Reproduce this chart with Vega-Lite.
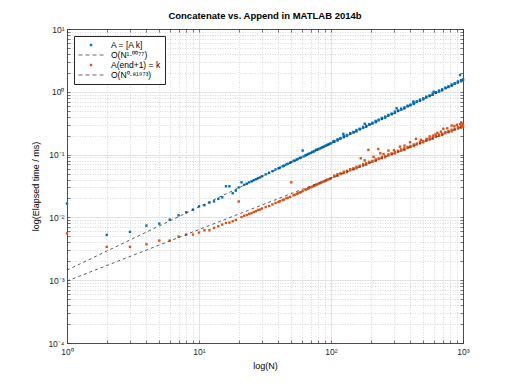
{
  "$schema": "https://vega.github.io/schema/vega-lite/v6.json",
  "width": 396,
  "height": 314,
  "autosize": {"type": "none"},
  "padding": {"left": 67, "top": 29, "right": 49, "bottom": 41},
  "background": "white",
  "title": {"text": "Concatenate vs. Append in MATLAB 2014b", "font": "Liberation Sans", "fontSize": 9.5, "fontWeight": "bold", "color": "#000000", "offset": 5},
  "config": {
    "view": {"stroke": null},
    "font": "Liberation Sans",
    "axis": {
      "labelFont": "Liberation Sans", "labelFontSize": 8.5, "labelColor": "#262626",
      "titleFont": "Liberation Sans", "titleFontSize": 9, "titleFontWeight": "normal", "titleColor": "#000000",
      "domainColor": "#262626", "domainWidth": 0.8, "tickColor": "#262626", "tickWidth": 0.6,
      "labelFlush": false, "labelOverlap": false, "labelBound": false
    }
  },
  "datasets": {
    "fits": [
      {"N": 1, "t": 0.001445, "s": "O(N¹·⁰⁰⁷⁷)"}, {"N": 1000, "t": 1.524, "s": "O(N¹·⁰⁰⁷⁷)"},
      {"N": 1, "t": 0.00097, "s": "O(N⁰·⁸¹⁹⁷³)"}, {"N": 1000, "t": 0.2792, "s": "O(N⁰·⁸¹⁹⁷³)"}
    ],
    "pts": [
      {"N":1,"t":0.0166,"s":"A = [A k]"},{"N":2,"t":0.00526,"s":"A = [A k]"},{"N":3,"t":0.00587,"s":"A = [A k]"},{"N":4,"t":0.0074,"s":"A = [A k]"},{"N":5,"t":0.00796,"s":"A = [A k]"},{"N":6,"t":0.00922,"s":"A = [A k]"},{"N":7,"t":0.0108,"s":"A = [A k]"},{"N":8,"t":0.01205,"s":"A = [A k]"},{"N":9,"t":0.0133,"s":"A = [A k]"},{"N":10,"t":0.015,"s":"A = [A k]"},
      {"N":11,"t":0.0156,"s":"A = [A k]"},{"N":12,"t":0.0172,"s":"A = [A k]"},{"N":13,"t":0.018,"s":"A = [A k]"},{"N":14,"t":0.0197,"s":"A = [A k]"},{"N":15,"t":0.0209,"s":"A = [A k]"},{"N":16,"t":0.0313,"s":"A = [A k]"},{"N":17,"t":0.0313,"s":"A = [A k]"},{"N":18,"t":0.0242,"s":"A = [A k]"},{"N":19,"t":0.0267,"s":"A = [A k]"},{"N":20,"t":0.03,"s":"A = [A k]"},
      {"N":21,"t":0.0362,"s":"A = [A k]"},{"N":22,"t":0.033,"s":"A = [A k]"},{"N":23,"t":0.0345,"s":"A = [A k]"},{"N":24,"t":0.0362,"s":"A = [A k]"},{"N":25,"t":0.0375,"s":"A = [A k]"},{"N":26,"t":0.0392,"s":"A = [A k]"},{"N":27,"t":0.0405,"s":"A = [A k]"},{"N":28,"t":0.042,"s":"A = [A k]"},{"N":29,"t":0.0433,"s":"A = [A k]"},{"N":30,"t":0.0452,"s":"A = [A k]"},
      {"N":32,"t":0.0485,"s":"A = [A k]"},{"N":34,"t":0.0515,"s":"A = [A k]"},{"N":36,"t":0.0545,"s":"A = [A k]"},{"N":38,"t":0.058,"s":"A = [A k]"},{"N":40,"t":0.0605,"s":"A = [A k]"},{"N":41,"t":0.0622,"s":"A = [A k]"},{"N":43,"t":0.065,"s":"A = [A k]"},{"N":44,"t":0.0667,"s":"A = [A k]"},{"N":46,"t":0.07,"s":"A = [A k]"},{"N":47,"t":0.0713,"s":"A = [A k]"},
      {"N":49,"t":0.0745,"s":"A = [A k]"},{"N":50,"t":0.0759,"s":"A = [A k]"},{"N":52,"t":0.079,"s":"A = [A k]"},{"N":53,"t":0.0805,"s":"A = [A k]"},{"N":55,"t":0.0835,"s":"A = [A k]"},{"N":56,"t":0.0851,"s":"A = [A k]"},{"N":58,"t":0.088,"s":"A = [A k]"},{"N":59,"t":0.0897,"s":"A = [A k]"},{"N":61,"t":0.116,"s":"A = [A k]"},{"N":62,"t":0.0935,"s":"A = [A k]"},
      {"N":64,"t":0.097,"s":"A = [A k]"},{"N":65,"t":0.0989,"s":"A = [A k]"},{"N":67,"t":0.1015,"s":"A = [A k]"},{"N":68,"t":0.1035,"s":"A = [A k]"},{"N":70,"t":0.106,"s":"A = [A k]"},{"N":72,"t":0.1096,"s":"A = [A k]"},{"N":74,"t":0.112,"s":"A = [A k]"},{"N":75,"t":0.1142,"s":"A = [A k]"},{"N":77,"t":0.119,"s":"A = [A k]"},{"N":78,"t":0.1188,"s":"A = [A k]"},
      {"N":80,"t":0.1215,"s":"A = [A k]"},{"N":82,"t":0.125,"s":"A = [A k]"},{"N":84,"t":0.1275,"s":"A = [A k]"},{"N":86,"t":0.1311,"s":"A = [A k]"},{"N":88,"t":0.1335,"s":"A = [A k]"},{"N":90,"t":0.1372,"s":"A = [A k]"},{"N":92,"t":0.1395,"s":"A = [A k]"},{"N":94,"t":0.1434,"s":"A = [A k]"},{"N":96,"t":0.1455,"s":"A = [A k]"},{"N":98,"t":0.1495,"s":"A = [A k]"},
      {"N":100,"t":0.1515,"s":"A = [A k]"},{"N":104,"t":0.161,"s":"A = [A k]"},{"N":124,"t":0.214,"s":"A = [A k]"},{"N":180,"t":0.31,"s":"A = [A k]"},{"N":314,"t":0.546,"s":"A = [A k]"},{"N":420,"t":0.7,"s":"A = [A k]"},{"N":600,"t":1.0,"s":"A = [A k]"},{"N":950,"t":1.85,"s":"A = [A k]"},
      {"N":106,"t":0.1603,"s":"A = [A k]"},{"N":106,"t":0.165,"s":"A = [A k]"},{"N":112,"t":0.1677,"s":"A = [A k]"},{"N":112,"t":0.1753,"s":"A = [A k]"},{"N":118,"t":0.1803,"s":"A = [A k]"},{"N":118,"t":0.1829,"s":"A = [A k]"},{"N":125,"t":0.1892,"s":"A = [A k]"},{"N":125,"t":0.1976,"s":"A = [A k]"},{"N":132,"t":0.1979,"s":"A = [A k]"},{"N":132,"t":0.2058,"s":"A = [A k]"},
      {"N":140,"t":0.2142,"s":"A = [A k]"},{"N":140,"t":0.2194,"s":"A = [A k]"},{"N":148,"t":0.2243,"s":"A = [A k]"},{"N":148,"t":0.2298,"s":"A = [A k]"},{"N":156,"t":0.2342,"s":"A = [A k]"},{"N":156,"t":0.2459,"s":"A = [A k]"},{"N":165,"t":0.2527,"s":"A = [A k]"},{"N":165,"t":0.2577,"s":"A = [A k]"},{"N":175,"t":0.2655,"s":"A = [A k]"},{"N":175,"t":0.2761,"s":"A = [A k]"},
      {"N":185,"t":0.2781,"s":"A = [A k]"},{"N":185,"t":0.2892,"s":"A = [A k]"},{"N":195,"t":0.2991,"s":"A = [A k]"},{"N":195,"t":0.3064,"s":"A = [A k]"},{"N":206,"t":0.313,"s":"A = [A k]"},{"N":206,"t":0.3207,"s":"A = [A k]"},{"N":218,"t":0.3281,"s":"A = [A k]"},{"N":218,"t":0.3445,"s":"A = [A k]"},{"N":230,"t":0.3532,"s":"A = [A k]"},{"N":230,"t":0.3601,"s":"A = [A k]"},
      {"N":243,"t":0.3696,"s":"A = [A k]"},{"N":243,"t":0.3843,"s":"A = [A k]"},{"N":257,"t":0.3872,"s":"A = [A k]"},{"N":257,"t":0.4027,"s":"A = [A k]"},{"N":272,"t":0.4182,"s":"A = [A k]"},{"N":272,"t":0.4284,"s":"A = [A k]"},{"N":288,"t":0.4386,"s":"A = [A k]"},{"N":288,"t":0.4495,"s":"A = [A k]"},{"N":305,"t":0.4601,"s":"A = [A k]"},{"N":305,"t":0.4831,"s":"A = [A k]"},
      {"N":322,"t":0.4957,"s":"A = [A k]"},{"N":322,"t":0.5054,"s":"A = [A k]"},{"N":340,"t":0.5184,"s":"A = [A k]"},{"N":340,"t":0.539,"s":"A = [A k]"},{"N":360,"t":0.5437,"s":"A = [A k]"},{"N":360,"t":0.5655,"s":"A = [A k]"},{"N":380,"t":0.5857,"s":"A = [A k]"},{"N":380,"t":0.6,"s":"A = [A k]"},{"N":400,"t":0.6107,"s":"A = [A k]"},{"N":400,"t":0.6258,"s":"A = [A k]"},
      {"N":423,"t":0.6397,"s":"A = [A k]"},{"N":423,"t":0.6716,"s":"A = [A k]"},{"N":447,"t":0.6897,"s":"A = [A k]"},{"N":447,"t":0.7033,"s":"A = [A k]"},{"N":472,"t":0.7215,"s":"A = [A k]"},{"N":472,"t":0.75,"s":"A = [A k]"},{"N":500,"t":0.757,"s":"A = [A k]"},{"N":500,"t":0.7873,"s":"A = [A k]"},{"N":528,"t":0.8157,"s":"A = [A k]"},{"N":528,"t":0.8357,"s":"A = [A k]"},
      {"N":558,"t":0.854,"s":"A = [A k]"},{"N":558,"t":0.8751,"s":"A = [A k]"},{"N":590,"t":0.8944,"s":"A = [A k]"},{"N":590,"t":0.9391,"s":"A = [A k]"},{"N":623,"t":0.9637,"s":"A = [A k]"},{"N":623,"t":0.9826,"s":"A = [A k]"},{"N":658,"t":1.0082,"s":"A = [A k]"},{"N":658,"t":1.0481,"s":"A = [A k]"},{"N":695,"t":1.0548,"s":"A = [A k]"},{"N":695,"t":1.097,"s":"A = [A k]"},
      {"N":735,"t":1.1383,"s":"A = [A k]"},{"N":735,"t":1.1662,"s":"A = [A k]"},{"N":777,"t":1.192,"s":"A = [A k]"},{"N":777,"t":1.2215,"s":"A = [A k]"},{"N":820,"t":1.246,"s":"A = [A k]"},{"N":820,"t":1.3083,"s":"A = [A k]"},{"N":866,"t":1.3428,"s":"A = [A k]"},{"N":866,"t":1.3691,"s":"A = [A k]"},{"N":915,"t":1.4054,"s":"A = [A k]"},{"N":915,"t":1.461,"s":"A = [A k]"},
      {"N":967,"t":1.4712,"s":"A = [A k]"},{"N":967,"t":1.53,"s":"A = [A k]"},{"N":1000,"t":1.5369,"s":"A = [A k]"},{"N":1000,"t":1.5826,"s":"A = [A k]"},
      {"N":1,"t":0.00558,"s":"A(end+1) = k"},{"N":2,"t":0.00339,"s":"A(end+1) = k"},{"N":3,"t":0.00339,"s":"A(end+1) = k"},{"N":4,"t":0.00373,"s":"A(end+1) = k"},{"N":5,"t":0.00428,"s":"A(end+1) = k"},{"N":6,"t":0.00428,"s":"A(end+1) = k"},{"N":7,"t":0.00495,"s":"A(end+1) = k"},{"N":8,"t":0.00532,"s":"A(end+1) = k"},{"N":9,"t":0.00532,"s":"A(end+1) = k"},{"N":10,"t":0.00573,"s":"A(end+1) = k"},
      {"N":11,"t":0.00623,"s":"A(end+1) = k"},{"N":12,"t":0.00623,"s":"A(end+1) = k"},{"N":13,"t":0.0068,"s":"A(end+1) = k"},{"N":14,"t":0.00722,"s":"A(end+1) = k"},{"N":15,"t":0.00768,"s":"A(end+1) = k"},{"N":16,"t":0.00817,"s":"A(end+1) = k"},{"N":17,"t":0.00826,"s":"A(end+1) = k"},{"N":18,"t":0.00867,"s":"A(end+1) = k"},{"N":19,"t":0.0091,"s":"A(end+1) = k"},{"N":20,"t":0.0179,"s":"A(end+1) = k"},
      {"N":21,"t":0.01012,"s":"A(end+1) = k"},{"N":22,"t":0.01063,"s":"A(end+1) = k"},{"N":23,"t":0.0109,"s":"A(end+1) = k"},{"N":24,"t":0.01142,"s":"A(end+1) = k"},{"N":25,"t":0.01167,"s":"A(end+1) = k"},{"N":26,"t":0.0122,"s":"A(end+1) = k"},{"N":27,"t":0.01258,"s":"A(end+1) = k"},{"N":28,"t":0.01311,"s":"A(end+1) = k"},{"N":29,"t":0.01334,"s":"A(end+1) = k"},{"N":30,"t":0.01387,"s":"A(end+1) = k"},
      {"N":32,"t":0.01463,"s":"A(end+1) = k"},{"N":34,"t":0.0152,"s":"A(end+1) = k"},{"N":36,"t":0.01611,"s":"A(end+1) = k"},{"N":38,"t":0.01703,"s":"A(end+1) = k"},{"N":40,"t":0.01756,"s":"A(end+1) = k"},{"N":41,"t":0.01812,"s":"A(end+1) = k"},{"N":43,"t":0.01884,"s":"A(end+1) = k"},{"N":44,"t":0.01921,"s":"A(end+1) = k"},{"N":46,"t":0.02014,"s":"A(end+1) = k"},{"N":47,"t":0.0205,"s":"A(end+1) = k"},
      {"N":49,"t":0.02121,"s":"A(end+1) = k"},{"N":50,"t":0.0362,"s":"A(end+1) = k"},{"N":52,"t":0.02252,"s":"A(end+1) = k"},{"N":53,"t":0.02287,"s":"A(end+1) = k"},{"N":55,"t":0.02358,"s":"A(end+1) = k"},{"N":56,"t":0.02419,"s":"A(end+1) = k"},{"N":58,"t":0.02489,"s":"A(end+1) = k"},{"N":59,"t":0.02525,"s":"A(end+1) = k"},{"N":61,"t":0.02623,"s":"A(end+1) = k"},{"N":64,"t":0.02757,"s":"A(end+1) = k"},
      {"N":65,"t":0.02793,"s":"A(end+1) = k"},{"N":67,"t":0.02863,"s":"A(end+1) = k"},{"N":68,"t":0.02929,"s":"A(end+1) = k"},{"N":70,"t":0.02999,"s":"A(end+1) = k"},{"N":72,"t":0.03069,"s":"A(end+1) = k"},{"N":74,"t":0.03172,"s":"A(end+1) = k"},{"N":75,"t":0.03207,"s":"A(end+1) = k"},{"N":77,"t":0.03277,"s":"A(end+1) = k"},{"N":78,"t":0.03346,"s":"A(end+1) = k"},{"N":80,"t":0.03416,"s":"A(end+1) = k"},
      {"N":82,"t":0.03486,"s":"A(end+1) = k"},{"N":84,"t":0.03556,"s":"A(end+1) = k"},{"N":86,"t":0.03662,"s":"A(end+1) = k"},{"N":88,"t":0.03732,"s":"A(end+1) = k"},{"N":90,"t":0.03801,"s":"A(end+1) = k"},{"N":92,"t":0.0387,"s":"A(end+1) = k"},{"N":94,"t":0.0398,"s":"A(end+1) = k"},{"N":96,"t":0.04048,"s":"A(end+1) = k"},{"N":98,"t":0.04117,"s":"A(end+1) = k"},{"N":100,"t":0.04188,"s":"A(end+1) = k"},
      {"N":106,"t":0.04437,"s":"A(end+1) = k"},{"N":106,"t":0.04614,"s":"A(end+1) = k"},{"N":112,"t":0.04595,"s":"A(end+1) = k"},{"N":112,"t":0.04873,"s":"A(end+1) = k"},{"N":118,"t":0.04893,"s":"A(end+1) = k"},{"N":118,"t":0.05038,"s":"A(end+1) = k"},{"N":125,"t":0.05078,"s":"A(end+1) = k"},{"N":125,"t":0.05332,"s":"A(end+1) = k"},{"N":132,"t":0.05257,"s":"A(end+1) = k"},{"N":132,"t":0.05522,"s":"A(end+1) = k"},
      {"N":140,"t":0.05628,"s":"A(end+1) = k"},{"N":140,"t":0.05851,"s":"A(end+1) = k"},{"N":148,"t":0.05832,"s":"A(end+1) = k"},{"N":148,"t":0.06065,"s":"A(end+1) = k"},{"N":156,"t":0.06028,"s":"A(end+1) = k"},{"N":156,"t":0.06394,"s":"A(end+1) = k"},{"N":165,"t":0.0644,"s":"A(end+1) = k"},{"N":165,"t":0.06631,"s":"A(end+1) = k"},{"N":175,"t":0.06691,"s":"A(end+1) = k"},{"N":175,"t":0.07025,"s":"A(end+1) = k"},
      {"N":185,"t":0.06932,"s":"A(end+1) = k"},{"N":185,"t":0.07282,"s":"A(end+1) = k"},{"N":195,"t":0.07384,"s":"A(end+1) = k"},{"N":195,"t":0.07677,"s":"A(end+1) = k"},{"N":206,"t":0.07648,"s":"A(end+1) = k"},{"N":206,"t":0.07954,"s":"A(end+1) = k"},{"N":218,"t":0.07931,"s":"A(end+1) = k"},{"N":218,"t":0.08411,"s":"A(end+1) = k"},{"N":230,"t":0.08454,"s":"A(end+1) = k"},{"N":230,"t":0.08705,"s":"A(end+1) = k"},
      {"N":243,"t":0.08756,"s":"A(end+1) = k"},{"N":243,"t":0.09194,"s":"A(end+1) = k"},{"N":257,"t":0.09076,"s":"A(end+1) = k"},{"N":257,"t":0.09534,"s":"A(end+1) = k"},{"N":272,"t":0.097,"s":"A(end+1) = k"},{"N":272,"t":0.10084,"s":"A(end+1) = k"},{"N":288,"t":0.10065,"s":"A(end+1) = k"},{"N":288,"t":0.10468,"s":"A(end+1) = k"},{"N":305,"t":0.10444,"s":"A(end+1) = k"},{"N":305,"t":0.11076,"s":"A(end+1) = k"},
      {"N":322,"t":0.11139,"s":"A(end+1) = k"},{"N":322,"t":0.1147,"s":"A(end+1) = k"},{"N":340,"t":0.11532,"s":"A(end+1) = k"},{"N":340,"t":0.12109,"s":"A(end+1) = k"},{"N":360,"t":0.11964,"s":"A(end+1) = k"},{"N":360,"t":0.12568,"s":"A(end+1) = k"},{"N":380,"t":0.12758,"s":"A(end+1) = k"},{"N":380,"t":0.13264,"s":"A(end+1) = k"},{"N":400,"t":0.13176,"s":"A(end+1) = k"},{"N":400,"t":0.13703,"s":"A(end+1) = k"},
      {"N":423,"t":0.13655,"s":"A(end+1) = k"},{"N":423,"t":0.14483,"s":"A(end+1) = k"},{"N":447,"t":0.14577,"s":"A(end+1) = k"},{"N":447,"t":0.1501,"s":"A(end+1) = k"},{"N":472,"t":0.1509,"s":"A(end+1) = k"},{"N":472,"t":0.15845,"s":"A(end+1) = k"},{"N":500,"t":0.15662,"s":"A(end+1) = k"},{"N":500,"t":0.16453,"s":"A(end+1) = k"},{"N":528,"t":0.16707,"s":"A(end+1) = k"},{"N":528,"t":0.17369,"s":"A(end+1) = k"},
      {"N":558,"t":0.17309,"s":"A(end+1) = k"},{"N":558,"t":0.18001,"s":"A(end+1) = k"},{"N":590,"t":0.17938,"s":"A(end+1) = k"},{"N":590,"t":0.19025,"s":"A(end+1) = k"},{"N":623,"t":0.19134,"s":"A(end+1) = k"},{"N":623,"t":0.19703,"s":"A(end+1) = k"},{"N":658,"t":0.19813,"s":"A(end+1) = k"},{"N":658,"t":0.20804,"s":"A(end+1) = k"},{"N":695,"t":0.20514,"s":"A(end+1) = k"},{"N":695,"t":0.2155,"s":"A(end+1) = k"},
      {"N":735,"t":0.21911,"s":"A(end+1) = k"},{"N":735,"t":0.22779,"s":"A(end+1) = k"},{"N":777,"t":0.22704,"s":"A(end+1) = k"},{"N":777,"t":0.23612,"s":"A(end+1) = k"},{"N":820,"t":0.23492,"s":"A(end+1) = k"},{"N":820,"t":0.24915,"s":"A(end+1) = k"},{"N":866,"t":0.25064,"s":"A(end+1) = k"},{"N":866,"t":0.25809,"s":"A(end+1) = k"},{"N":915,"t":0.25959,"s":"A(end+1) = k"},{"N":915,"t":0.27257,"s":"A(end+1) = k"},
      {"N":967,"t":0.26891,"s":"A(end+1) = k"},{"N":967,"t":0.2825,"s":"A(end+1) = k"},{"N":1000,"t":0.28199,"s":"A(end+1) = k"},{"N":1000,"t":0.29316,"s":"A(end+1) = k"},
      {"N":168,"t":0.0873,"s":"A(end+1) = k"},{"N":192,"t":0.119,"s":"A(end+1) = k"},{"N":228,"t":0.123,"s":"A(end+1) = k"},{"N":236,"t":0.105,"s":"A(end+1) = k"},{"N":272,"t":0.116,"s":"A(end+1) = k"},{"N":333,"t":0.134,"s":"A(end+1) = k"},{"N":397,"t":0.157,"s":"A(end+1) = k"},{"N":440,"t":0.178,"s":"A(end+1) = k"},{"N":531,"t":0.178,"s":"A(end+1) = k"},{"N":596,"t":0.201,"s":"A(end+1) = k"},
      {"N":710,"t":0.257,"s":"A(end+1) = k"},{"N":821,"t":0.29,"s":"A(end+1) = k"},{"N":921,"t":0.272,"s":"A(end+1) = k"},{"N":300,"t":0.118,"s":"A(end+1) = k"},{"N":360,"t":0.139,"s":"A(end+1) = k"},{"N":480,"t":0.172,"s":"A(end+1) = k"},{"N":560,"t":0.195,"s":"A(end+1) = k"},{"N":640,"t":0.222,"s":"A(end+1) = k"},{"N":680,"t":0.232,"s":"A(end+1) = k"},{"N":760,"t":0.262,"s":"A(end+1) = k"},
      {"N":860,"t":0.285,"s":"A(end+1) = k"},{"N":950,"t":0.305,"s":"A(end+1) = k"},{"N":990,"t":0.31,"s":"A(end+1) = k"},{"N":970,"t":0.325,"s":"A(end+1) = k"},{"N":250,"t":0.102,"s":"A(end+1) = k"},{"N":210,"t":0.092,"s":"A(end+1) = k"},{"N":180,"t":0.081,"s":"A(end+1) = k"},{"N":620,"t":0.21,"s":"A(end+1) = k"},{"N":900,"t":0.298,"s":"A(end+1) = k"}
    ]
  },
  "layer": [
    {
      "data": {"name": "pts"},
      "mark": {"type": "point", "filled": true, "size": 100, "opacity": 1, "strokeWidth": 0},
      "encoding": {
        "x": {
          "field": "N", "type": "quantitative",
          "scale": {"type": "log", "domain": [1, 1000], "nice": false},
          "axis": {
            "orient": "bottom", "title": "log(N)", "titlePadding": 6,
            "values": [1,2,3,4,5,6,7,8,9,10,20,30,40,50,60,70,80,90,100,200,300,400,500,600,700,800,900,1000],
            "labelExpr": "datum.value == 1 ? '10⁰' : datum.value == 10 ? '10¹' : datum.value == 100 ? '10²' : datum.value == 1000 ? '10³' : ''",
            "grid": true,
            "gridColor": {"condition": {"test": "indexof([1,10,100,1000], datum.value) >= 0", "value": "#dcdcdc"}, "value": "#cfcfcf"},
            "gridDash": {"condition": {"test": "indexof([1,10,100,1000], datum.value) >= 0", "value": []}, "value": [1, 1.5]},
            "gridWidth": 0.8,
            "tickSize": -3, "labelPadding": 7
          }
        },
        "y": {
          "field": "t", "type": "quantitative",
          "scale": {"type": "log", "domain": [0.0001, 10], "nice": false},
          "axis": {
            "orient": "left", "title": "log(Elapsed time / ms)", "titlePadding": 7,
            "values": [0.0001,0.0002,0.0003,0.0004,0.0005,0.0006,0.0007,0.0008,0.0009,0.001,0.002,0.003,0.004,0.005,0.006,0.007,0.008,0.009,0.01,0.02,0.03,0.04,0.05,0.06,0.07,0.08,0.09,0.1,0.2,0.3,0.4,0.5,0.6,0.7,0.8,0.9,1,2,3,4,5,6,7,8,9,10],
            "labelExpr": "datum.value == 0.0001 ? '10⁻⁴' : datum.value == 0.001 ? '10⁻³' : datum.value == 0.01 ? '10⁻²' : datum.value == 0.1 ? '10⁻¹' : datum.value == 1 ? '10⁰' : datum.value == 10 ? '10¹' : ''",
            "grid": true,
            "gridColor": {"condition": {"test": "indexof([0.0001,0.001,0.01,0.1,1,10], datum.value) >= 0", "value": "#dcdcdc"}, "value": "#cfcfcf"},
            "gridDash": {"condition": {"test": "indexof([0.0001,0.001,0.01,0.1,1,10], datum.value) >= 0", "value": []}, "value": [1, 1.5]},
            "gridWidth": 0.8,
            "tickSize": -3, "labelPadding": 6
          }
        },
        "color": {
          "field": "s", "type": "nominal",
          "scale": {
            "domain": ["A = [A k]", "O(N¹·⁰⁰⁷⁷)", "A(end+1) = k", "O(N⁰·⁸¹⁹⁷³)"],
            "range": ["#0072BD", "#6a6a6a", "#D95319", "#6a6a6a"]
          },
          "legend": {
            "title": null, "orient": "top-left", "offset": 7, "padding": 4, "rowPadding": 0,
            "symbolSize": 100, "symbolOffset": 8, "labelOffset": 15, "labelFont": "Liberation Sans", "labelFontSize": 8.5, "labelColor": "#000000",
            "strokeColor": "#262626", "fillColor": "#ffffff", "symbolStrokeWidth": 0
          }
        },
        "shape": {
          "field": "s", "type": "nominal",
          "scale": {
            "domain": ["A = [A k]", "O(N¹·⁰⁰⁷⁷)", "A(end+1) = k", "O(N⁰·⁸¹⁹⁷³)"],
            "range": [
              "M-0.24,-0.24H0.24V0.24H-0.24Z",
              "M-2.5,-0.1H-1.7V0.1H-2.5ZM-1.1,-0.1H-0.3V0.1H-1.1ZM0.3,-0.1H1.1V0.1H0.3ZM1.7,-0.1H2.5V0.1H1.7Z",
              "M-0.24,-0.24H0.24V0.24H-0.24Z",
              "M-2.5,-0.1H-1.7V0.1H-2.5ZM-1.1,-0.1H-0.3V0.1H-1.1ZM0.3,-0.1H1.1V0.1H0.3ZM1.7,-0.1H2.5V0.1H1.7Z"
            ]
          },
          "legend": {
            "title": null, "orient": "top-left", "offset": 7, "padding": 4, "rowPadding": 0,
            "symbolSize": 100, "symbolOffset": 8, "labelOffset": 15, "labelFont": "Liberation Sans", "labelFontSize": 8.5, "labelColor": "#000000",
            "strokeColor": "#262626", "fillColor": "#ffffff", "symbolStrokeWidth": 0
          }
        }
      }
    },
    {
      "data": {"name": "fits"},
      "mark": {"type": "line", "color": "#333333", "strokeWidth": 0.8, "strokeDash": [3, 3]},
      "encoding": {
        "x": {
          "field": "N", "type": "quantitative",
          "axis": {"orient": "top", "title": null, "labels": false, "grid": false, "tickSize": -3,
            "values": [1,2,3,4,5,6,7,8,9,10,20,30,40,50,60,70,80,90,100,200,300,400,500,600,700,800,900,1000]}
        },
        "y": {
          "field": "t", "type": "quantitative",
          "axis": {"orient": "right", "title": null, "labels": false, "grid": false, "tickSize": -3,
            "values": [0.0001,0.0002,0.0003,0.0004,0.0005,0.0006,0.0007,0.0008,0.0009,0.001,0.002,0.003,0.004,0.005,0.006,0.007,0.008,0.009,0.01,0.02,0.03,0.04,0.05,0.06,0.07,0.08,0.09,0.1,0.2,0.3,0.4,0.5,0.6,0.7,0.8,0.9,1,2,3,4,5,6,7,8,9,10]}
        },
        "detail": {"field": "s", "type": "nominal"}
      }
    }
  ],
  "resolve": {"axis": {"x": "independent", "y": "independent"}}
}
